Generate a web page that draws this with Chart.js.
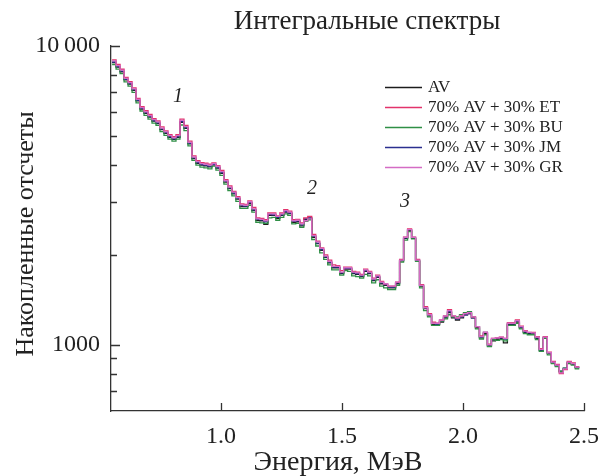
<!DOCTYPE html>
<html>
<head>
<meta charset="utf-8">
<script src="https://cdn.jsdelivr.net/npm/chart.js@4.4.1/dist/chart.umd.min.js"></script>
<style>
  html, body { margin: 0; padding: 0; background: #fff; }
  #wrap { width: 601px; height: 476px; }
</style>
</head>
<body>
<div id="wrap"><canvas id="c" width="601" height="476"></canvas></div>
<script>
// Channel calibration: first bin start (MeV) and bin width (MeV)
const binStart = 0.55;
const binWidth = 0.0165;

const seriesNames = ['AV', '70% AV + 30% ET', '70% AV + 30% BU', '70% AV + 30% JM', '70% AV + 30% GR'];
const seriesColors = ['#1c1c1c', '#e2336b', '#2f8f46', '#2b2f8f', '#d46cc4'];

// Integral spectra, counts per bin
const countsAV = [
  8800,8500,8200,7700,7450,7100,6550,6150,5950,5780,
  5600,5500,5250,5100,4950,4870,4950,5550,5300,4700,
  4200,4050,3990,3970,3940,4000,3900,3750,3500,3330,
  3200,3070,2900,2900,2970,2820,2610,2600,2530,2710,
  2710,2650,2710,2780,2750,2570,2580,2500,2620,2650,
  2290,2180,2070,1960,1880,1810,1810,1730,1790,1790,
  1730,1720,1690,1760,1730,1640,1680,1600,1580,1550,
  1550,1600,1910,2270,2410,2270,1910,1570,1320,1250,
  1170,1170,1190,1230,1280,1230,1210,1230,1260,1270,
  1230,1140,1055,1090,992,1030,1040,1050,1015,1170,
  1170,1190,1140,1100,1090,1090,1050,955,1055,933,
  870,850,810,830,870,860,837
];
const countsET = [
  8980,8670,8360,7850,7600,7240,6680,6270,6070,5900,
  5710,5610,5360,5200,5050,4970,5050,5690,5420,4800,
  4290,4130,4070,4050,4020,4060,3980,3830,3570,3400,
  3260,3130,2960,2950,3030,2880,2660,2650,2620,2760,
  2760,2700,2760,2830,2800,2620,2630,2560,2660,2690,
  2340,2220,2110,2000,1920,1850,1840,1770,1820,1820,
  1760,1750,1720,1790,1760,1670,1710,1630,1600,1570,
  1570,1620,1930,2290,2440,2290,1930,1590,1340,1270,
  1190,1180,1210,1250,1310,1250,1230,1250,1270,1280,
  1240,1150,1070,1100,1005,1050,1055,1060,1050,1185,
  1185,1210,1155,1115,1100,1100,1065,970,1065,945,
  880,860,800,825,880,870,845
];
const countsBU = [
  8670,8370,8080,7580,7340,6990,6450,6060,5860,5690,
  5520,5420,5170,5020,4880,4800,4880,5440,5210,4630,
  4140,3990,3930,3910,3880,3960,3840,3690,3450,3280,
  3150,3020,2860,2860,2930,2780,2570,2560,2550,2660,
  2670,2610,2670,2740,2710,2540,2550,2470,2590,2620,
  2250,2140,2030,1930,1850,1780,1780,1710,1770,1760,
  1700,1690,1670,1720,1700,1610,1650,1570,1550,1530,
  1530,1580,1890,2240,2390,2260,1900,1550,1300,1240,
  1160,1160,1200,1220,1260,1240,1240,1260,1280,1290,
  1240,1130,1045,1080,985,1040,1035,1040,1030,1160,
  1160,1180,1130,1090,1080,1080,1040,950,1050,925,
  865,845,815,835,865,855,830
];
const countsJM = [
  8840,8540,8240,7740,7490,7140,6580,6180,5980,5810,
  5630,5530,5280,5130,4970,4890,4970,5580,5330,4720,
  4220,4070,4010,3990,3960,4010,3920,3770,3520,3350,
  3220,3090,2920,2910,2990,2830,2630,2620,2580,2730,
  2720,2670,2720,2790,2760,2590,2600,2520,2640,2660,
  2310,2190,2080,1970,1890,1820,1820,1740,1800,1800,
  1740,1730,1700,1770,1740,1650,1690,1610,1590,1560,
  1560,1610,1920,2280,2430,2280,1920,1580,1330,1260,
  1180,1170,1200,1240,1290,1240,1220,1240,1260,1270,
  1230,1150,1060,1100,1000,1040,1050,1055,1045,1175,
  1175,1200,1145,1105,1095,1095,1055,960,1060,940,
  875,855,815,835,875,865,840
];
const countsGR = [
  8910,8600,8300,7790,7540,7190,6630,6220,6020,5850,
  5670,5570,5310,5160,5010,4930,5010,5640,5370,4760,
  4250,4100,4040,4020,3990,4040,3950,3800,3540,3370,
  3240,3110,2940,2930,3010,2850,2640,2630,2600,2740,
  2740,2690,2740,2810,2780,2600,2610,2540,2600,2640,
  2320,2210,2100,1980,1900,1830,1830,1750,1810,1810,
  1750,1740,1710,1780,1750,1660,1700,1620,1600,1570,
  1570,1620,1920,2290,2430,2290,1920,1580,1330,1260,
  1180,1180,1210,1250,1300,1250,1230,1250,1270,1280,
  1240,1150,1065,1100,1000,1050,1055,1060,1050,1180,
  1180,1205,1150,1110,1100,1095,1060,965,1060,940,
  875,855,805,830,875,865,842
];

const xTickValues = [1.0, 1.5, 2.0, 2.5];
const yTickValues = [700, 800, 900, 1000, 2000, 3000, 4000, 5000, 6000, 7000, 8000, 10000];
const yTickLabels = { 1000: '1000', 10000: '10\u2009000' };
const yMajorTicks = [1000, 10000];

const peakMarks = [
  { text: '1', energy: 0.822, counts: 6740 },
  { text: '2', energy: 1.376, counts: 3340 },
  { text: '3', energy: 1.760, counts: 3000 }
];

const SERIF = '"Liberation Serif", "DejaVu Serif", "Times New Roman", serif';
const TEXT = '#222';
const AXIS = '#333';

// Histogram bins as step points; the last edge closes the final bin
function toSteps(counts) {
  const pts = counts.map((c, i) => ({ x: binStart + i * binWidth, y: c }));
  pts.push({ x: binStart + counts.length * binWidth, y: counts[counts.length - 1] });
  return pts;
}

const allCounts = [countsAV, countsET, countsBU, countsJM, countsGR];
const drawOrder = [4, 1, 2, 3, 0];

const datasets = allCounts.map((counts, i) => ({
  label: seriesNames[i],
  data: toSteps(counts),
  borderColor: seriesColors[i],
  borderWidth: 1.3,
  pointRadius: 0,
  stepped: 'before',
  fill: false,
  order: drawOrder[i]
}));

const decorations = {
  id: 'decorations',
  afterDraw(chart) {
    const { ctx, chartArea: a, scales: { x, y } } = chart;
    ctx.save();
    // inward tick marks
    ctx.strokeStyle = AXIS;
    ctx.lineWidth = 1.3;
    ctx.beginPath();
    yTickValues.forEach(v => {
      const py = Math.round(y.getPixelForValue(v)) + 0.5;
      const len = yMajorTicks.includes(v) ? 9 : 6;
      ctx.moveTo(a.left, py);
      ctx.lineTo(a.left + len, py);
    });
    xTickValues.forEach(v => {
      const px = Math.round(x.getPixelForValue(v)) + 0.5;
      ctx.moveTo(px, a.bottom);
      ctx.lineTo(px, a.bottom - 8);
    });
    ctx.stroke();

    ctx.fillStyle = TEXT;
    ctx.textAlign = 'center';
    ctx.textBaseline = 'middle';

    // chart title
    ctx.font = '27px ' + SERIF;
    ctx.fillText('Интегральные спектры', 367, 22);

    // axis titles
    ctx.font = '28px ' + SERIF;
    ctx.fillText('Энергия, МэВ', 338, 463);
    ctx.save();
    ctx.translate(26, 234);
    ctx.rotate(-Math.PI / 2);
    ctx.font = '26px ' + SERIF;
    ctx.fillText('Накопленные отсчеты', 0, 0);
    ctx.restore();

    // peak numbers
    ctx.font = 'italic 20px ' + SERIF;
    peakMarks.forEach(p => {
      ctx.fillText(p.text, x.getPixelForValue(p.energy), y.getPixelForValue(p.counts));
    });

    // legend
    ctx.font = '17px ' + SERIF;
    ctx.textAlign = 'left';
    seriesNames.forEach((name, i) => {
      const ly = 87 + i * 20;
      ctx.strokeStyle = seriesColors[i];
      ctx.lineWidth = 1.4;
      ctx.beginPath();
      ctx.moveTo(385, ly + 0.5);
      ctx.lineTo(422, ly + 0.5);
      ctx.stroke();
      ctx.fillStyle = TEXT;
      ctx.fillText(name, 428, ly + 1);
    });
    ctx.restore();
  }
};

new Chart(document.getElementById('c'), {
  type: 'line',
  data: { datasets },
  options: {
    responsive: false,
    devicePixelRatio: 1,
    animation: false,
    layout: { padding: { top: 46, right: 17, bottom: 0, left: 0 } },
    plugins: { legend: { display: false }, tooltip: { enabled: false }, title: { display: false } },
    scales: {
      x: {
        type: 'linear',
        min: 0.5455,
        max: 2.5,
        afterBuildTicks: s => { s.ticks = xTickValues.map(v => ({ value: v })); },
        afterFit: s => { s.height = 65; s.paddingLeft = 0; s.paddingRight = 0; },
        grid: { display: false, drawTicks: false },
        border: { display: true, color: AXIS, width: 1.3 },
        ticks: {
          autoSkip: false,
          maxRotation: 0,
          padding: 11,
          color: TEXT,
          font: { family: SERIF, size: 24 },
          callback: v => Number(v).toFixed(1)
        }
      },
      y: {
        type: 'logarithmic',
        min: 600,
        max: 10000,
        afterBuildTicks: s => { s.ticks = yTickValues.map(v => ({ value: v })); },
        afterFit: s => { s.width = 111; s.paddingTop = 0; s.paddingBottom = 0; },
        grid: { display: false, drawTicks: false },
        border: { display: true, color: AXIS, width: 1.3 },
        ticks: {
          autoSkip: false,
          padding: 11,
          color: TEXT,
          font: { family: SERIF, size: 24 },
          callback: v => yTickLabels[v] || ''
        }
      }
    }
  },
  plugins: [decorations]
});
</script>
</body>
</html>
